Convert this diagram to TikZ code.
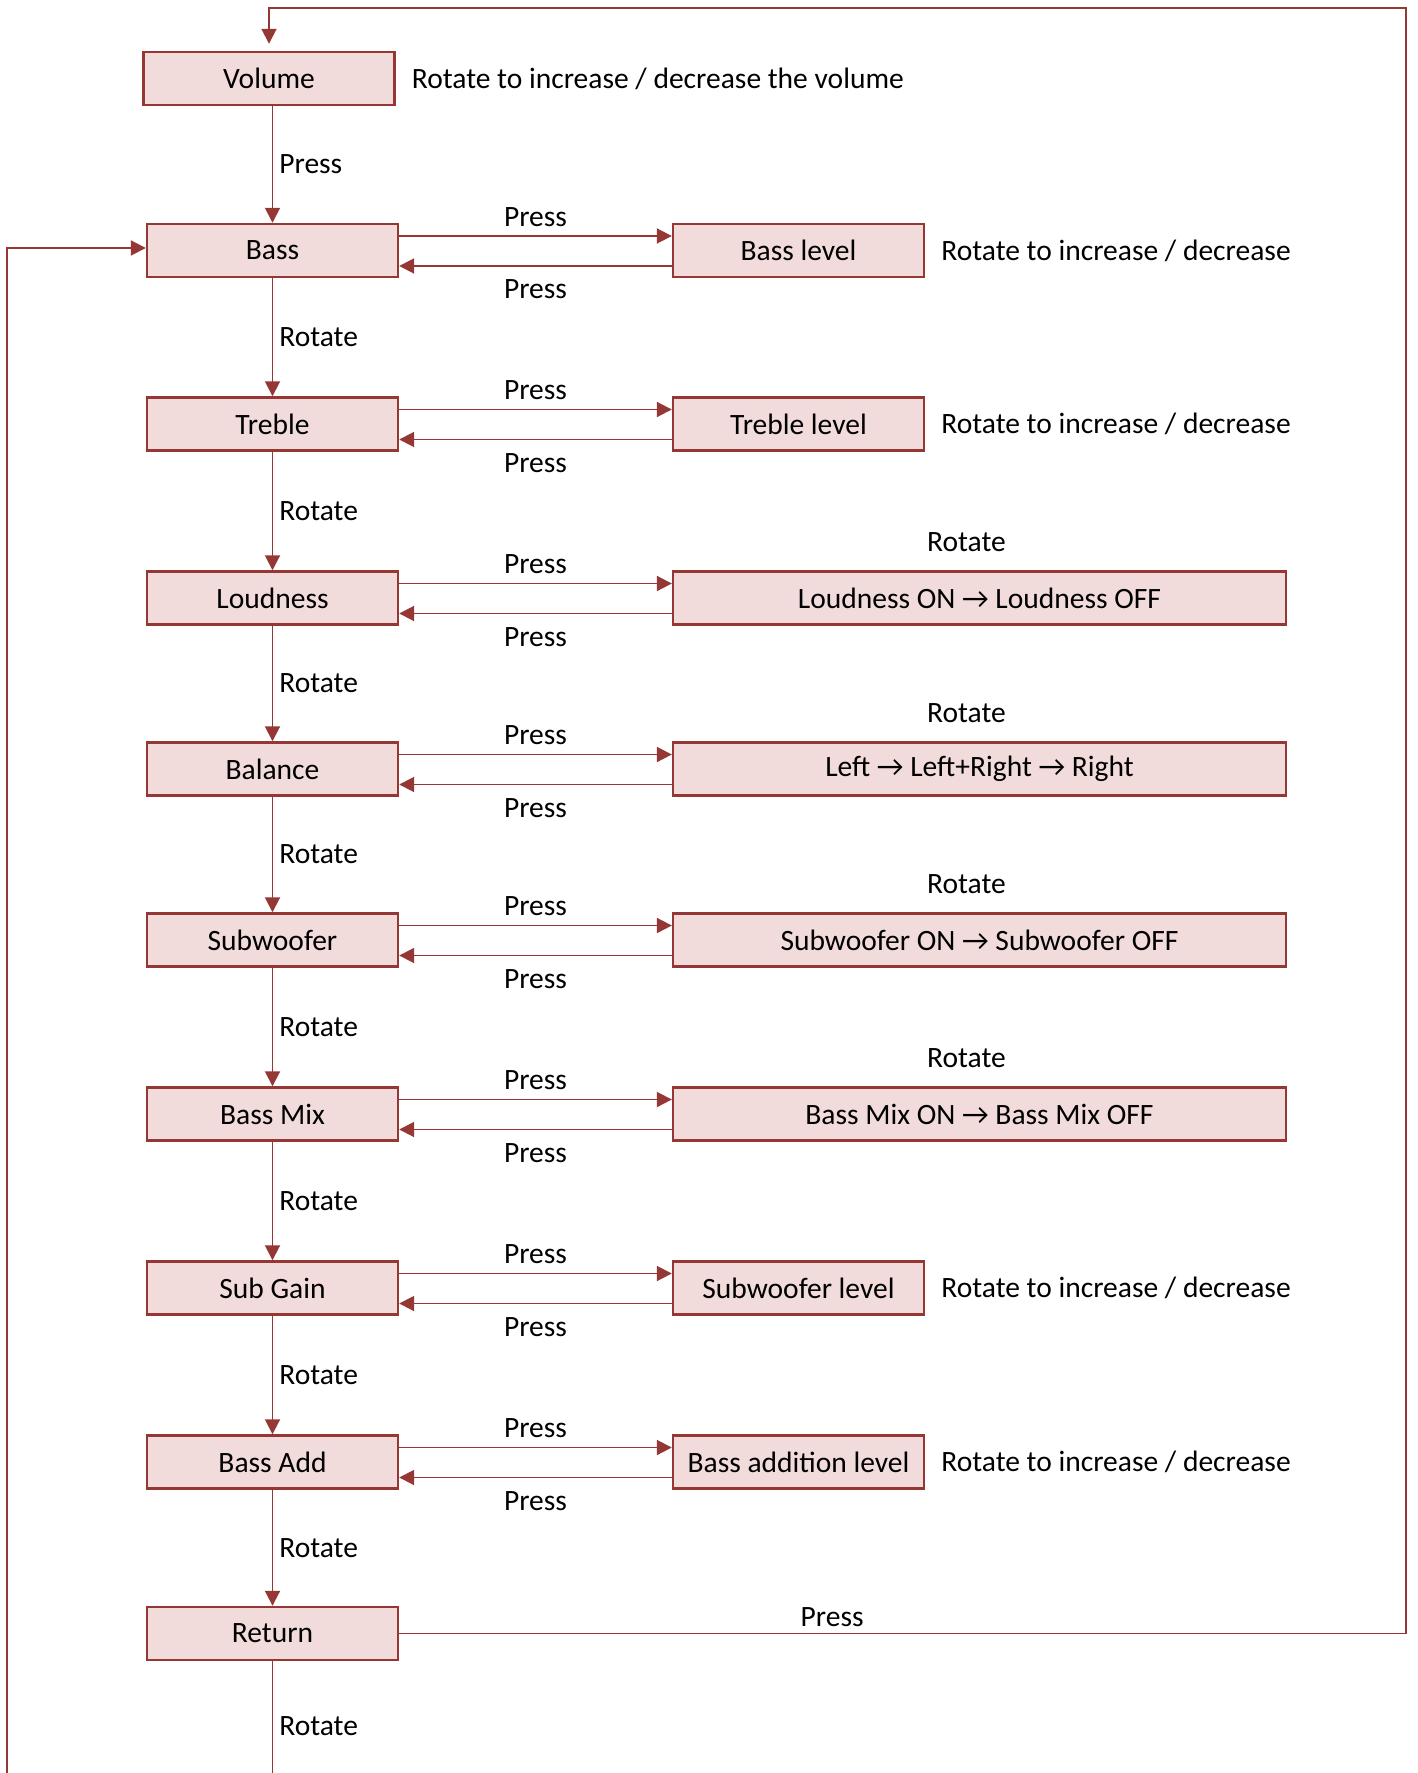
\documentclass[tikz,border=0pt]{standalone}
\usepackage{fontspec}
\setmainfont{Carlito}
\usepackage{tikz}
\usetikzlibrary{arrows.meta}
\definecolor{boxred}{RGB}{149, 55, 53}
\definecolor{boxfill}{RGB}{242, 220, 219}
\tikzset{
	menubox/.style = {draw = boxred, fill = boxfill, line width = 1.4pt, minimum width = 5.02cm, minimum height = 1.06cm, inner sep = 0pt},
	widebox/.style = {menubox, minimum width = 12.26cm},
	conn/.style = {draw = boxred, line width = 1.1pt, -{Triangle[length = 0.3cm, width = 0.3cm]}},
	plainline/.style = {draw = boxred, line width = 1.1pt},
	hint/.style = {anchor = west, xshift = 0.2cm},
	uplabel/.style = {above, yshift = 0.05cm},
	downlabel/.style = {below, yshift = -0.14cm}
}

\begin{document}
\begin{tikzpicture}[x = 0.02cm, y = -0.02cm, font = \fontsize{16.8pt}{20pt}\selectfont]
	\useasboundingbox (0, 0) rectangle (1417, 1773);
	% menu column
	\node[menubox] (volume) at (269, 78.5) {Volume};
	\node[menubox] (bass) at (272.5, 250.5) {Bass};
	\node[menubox] (treble) at (272.5, 424) {Treble};
	\node[menubox] (loud) at (272.5, 598) {Loudness};
	\node[menubox] (balance) at (272.5, 769) {Balance};
	\node[menubox] (sub) at (272.5, 940) {Subwoofer};
	\node[menubox] (bassmix) at (272.5, 1114) {Bass Mix};
	\node[menubox] (subgain) at (272.5, 1288) {Sub Gain};
	\node[menubox] (bassadd) at (272.5, 1462) {Bass Add};
	\node[menubox] (return) at (272.5, 1633.5) {Return};
	% value boxes
	\node[menubox] (basslvl) at (798.5, 250.5) {Bass level};
	\node[menubox] (treblelvl) at (798.5, 424) {Treble level};
	\node[widebox] (loudval) at (979.5, 598) {Loudness ON → Loudness OFF};
	\node[widebox] (balval) at (979.5, 769) {Left → Left+Right → Right};
	\node[widebox] (subval) at (979.5, 940) {Subwoofer ON → Subwoofer OFF};
	\node[widebox] (mixval) at (979.5, 1114) {Bass Mix ON → Bass Mix OFF};
	\node[menubox] (sublvl) at (798.5, 1288) {Subwoofer level};
	\node[menubox] (addlvl) at (798.5, 1462) {Bass addition level};
	% hints
	\node[hint] (volhint) at (volume.east) {Rotate to increase / decrease the volume};
	\node[hint] (basshint) at (basslvl.east) {Rotate to increase / decrease};
	\node[hint] (treblehint) at (treblelvl.east) {Rotate to increase / decrease};
	\node[hint] (subhint) at (sublvl.east) {Rotate to increase / decrease};
	\node[hint] (addhint) at (addlvl.east) {Rotate to increase / decrease};
	\node (loudrot) at ([xshift = -0.26cm, yshift = 0.56cm]loudval.north) {Rotate};
	\node (balrot) at ([xshift = -0.26cm, yshift = 0.56cm]balval.north) {Rotate};
	\node (subrot) at ([xshift = -0.26cm, yshift = 0.56cm]subval.north) {Rotate};
	\node (mixrot) at ([xshift = -0.26cm, yshift = 0.56cm]mixval.north) {Rotate};
	% down the column
	\draw[conn] (volume.south -| bass.north) -- node[right]{Press} (bass.north);
	\draw[conn] (bass.south) -- node[right]{Rotate} (treble.north);
	\draw[conn] (treble.south) -- node[right]{Rotate} (loud.north);
	\draw[conn] (loud.south) -- node[right]{Rotate} (balance.north);
	\draw[conn] (balance.south) -- node[right]{Rotate} (sub.north);
	\draw[conn] (sub.south) -- node[right]{Rotate} (bassmix.north);
	\draw[conn] (bassmix.south) -- node[right]{Rotate} (subgain.north);
	\draw[conn] (subgain.south) -- node[right]{Rotate} (bassadd.north);
	\draw[conn] (bassadd.south) -- node[right]{Rotate} (return.north);
	% in and out of the value boxes
	\draw[conn] ([yshift = 0.29cm]bass.east) -- node[uplabel]{Press} ([yshift = 0.29cm]basslvl.west);
	\draw[conn] ([yshift = -0.31cm]basslvl.west) -- node[downlabel]{Press} ([yshift = -0.31cm]bass.east);
	\draw[conn] ([yshift = 0.29cm]treble.east) -- node[uplabel]{Press} ([yshift = 0.29cm]treblelvl.west);
	\draw[conn] ([yshift = -0.31cm]treblelvl.west) -- node[downlabel]{Press} ([yshift = -0.31cm]treble.east);
	\draw[conn] ([yshift = 0.29cm]loud.east) -- node[uplabel]{Press} ([yshift = 0.29cm]loudval.west);
	\draw[conn] ([yshift = -0.31cm]loudval.west) -- node[downlabel]{Press} ([yshift = -0.31cm]loud.east);
	\draw[conn] ([yshift = 0.29cm]balance.east) -- node[uplabel]{Press} ([yshift = 0.29cm]balval.west);
	\draw[conn] ([yshift = -0.31cm]balval.west) -- node[downlabel]{Press} ([yshift = -0.31cm]balance.east);
	\draw[conn] ([yshift = 0.29cm]sub.east) -- node[uplabel]{Press} ([yshift = 0.29cm]subval.west);
	\draw[conn] ([yshift = -0.31cm]subval.west) -- node[downlabel]{Press} ([yshift = -0.31cm]sub.east);
	\draw[conn] ([yshift = 0.29cm]bassmix.east) -- node[uplabel]{Press} ([yshift = 0.29cm]mixval.west);
	\draw[conn] ([yshift = -0.31cm]mixval.west) -- node[downlabel]{Press} ([yshift = -0.31cm]bassmix.east);
	\draw[conn] ([yshift = 0.29cm]subgain.east) -- node[uplabel]{Press} ([yshift = 0.29cm]sublvl.west);
	\draw[conn] ([yshift = -0.31cm]sublvl.west) -- node[downlabel]{Press} ([yshift = -0.31cm]subgain.east);
	\draw[conn] ([yshift = 0.29cm]bassadd.east) -- node[uplabel]{Press} ([yshift = 0.29cm]addlvl.west);
	\draw[conn] ([yshift = -0.31cm]addlvl.west) -- node[downlabel]{Press} ([yshift = -0.31cm]bassadd.east);
	% loops
	\coordinate (topright) at (1406, 8);
	\coordinate (leftfoot) at (7, 1773);
	\draw[conn] (return.east) -- node[above, pos = .43]{Press} (return.east -| topright) -- (topright) -- (volume.north |- topright) -- ([yshift = 0.14cm]volume.north);
	\draw[plainline] (return.south) -- node[right, pos = .58]{Rotate} (return.south |- leftfoot);
	\draw[conn] (leftfoot) |- ([yshift = 0.05cm]bass.west);
\end{tikzpicture}
\end{document}
